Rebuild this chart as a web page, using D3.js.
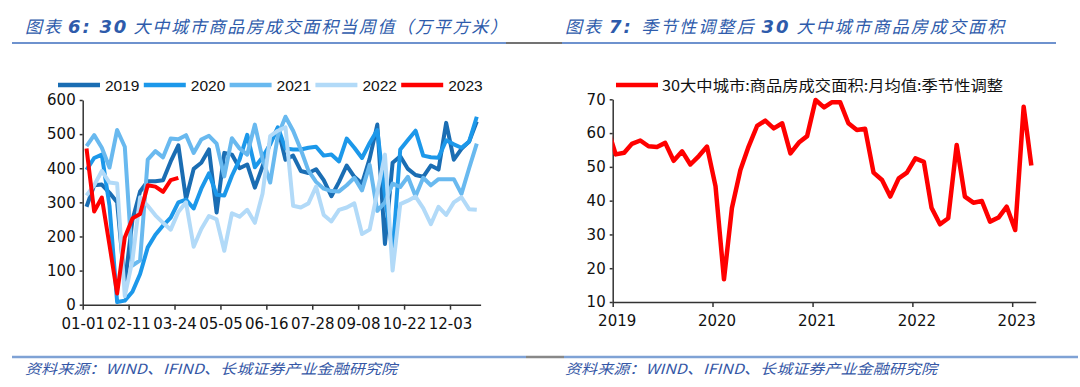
<!DOCTYPE html>
<html><head><meta charset="utf-8">
<script src="https://cdn.jsdelivr.net/npm/d3@7"></script>
<style>body{margin:0;background:#fff;} svg{display:block;}</style>
</head><body>
<svg id="c" width="1080" height="387"></svg>
<script>
// ---------- data ----------
const weekTickLabels = ["01-01","02-11","03-24","05-05","06-16","07-28","09-08","10-22","12-03"];
const weekYears = ["2019","2020","2021","2022","2023"];
const s2019 = [287,350,352,328,300,60,248,332,362,362,365,420,467,310,398,416,455,270,445,440,400,411,343,405,475,517,425,437,392,386,397,365,318,360,408,375,355,428,528,178,416,435,398,380,375,408,396,533,425,457,478,537];
const s2020 = [395,430,440,290,8,12,38,90,168,205,232,255,300,308,282,340,385,322,320,378,425,498,403,432,470,520,458,455,455,460,463,437,440,420,487,460,430,474,512,320,150,455,483,510,437,432,431,482,470,460,478,551];
const s2021 = [465,497,460,402,512,463,115,130,425,450,432,487,485,497,445,484,495,472,376,488,458,440,528,428,358,495,551,510,455,393,360,340,333,332,350,372,335,410,275,300,355,345,375,318,372,350,368,368,368,325,400,472];
const s2022 = [320,350,392,358,355,25,130,315,290,262,240,220,272,300,170,222,260,250,158,268,258,278,240,325,494,510,520,290,285,297,346,263,244,278,285,297,207,220,330,440,100,295,305,317,283,236,287,263,300,315,280,278];
const s2023 = [458,273,314,175,33,197,253,266,350,346,331,365,372];
const leftTicks = [0,100,200,300,400,500,600];

const saStart = "2018-12";
const saValues = [61.7,53.7,54.2,56.8,57.8,56.1,55.9,57.1,51.8,54.6,50.7,53.2,56.0,44.3,16.7,37.8,49.1,56.0,62.1,63.7,61.4,62.9,54.0,57.2,59.1,69.8,67.6,69.1,69.1,62.9,60.9,61.3,48.3,46.1,41.2,46.6,48.3,52.5,51.5,37.9,33.0,34.8,56.5,41.2,39.4,39.9,33.8,35.0,38.2,31.3,67.8,50.4];
const rightYears = ["2019","2020","2021","2022","2023"];
const rightTicks = [10,20,30,40,50,60,70];
const saLegend = "30大中城市:商品房成交面积:月均值:季节性调整";

const title1 = [{t:"图表 "},{t:"6: ",b:true},{t:" "},{t:"30",b:true},{t:" 大中城市商品房成交面积当周值（万平方米）"}];
const title2 = [{t:"图表 "},{t:"7: ",b:true},{t:" 季节性调整后 "},{t:"30",b:true},{t:" 大中城市商品房成交面积"}];
const sourceText = "资料来源：WIND、IFIND、长城证券产业金融研究院";

// ---------- styles ----------
const NUM = "'DejaVu Sans', Verdana, sans-serif";
const ARIAL = "'Liberation Sans', Arial, sans-serif";
const CJK = "'Noto Sans CJK SC','Noto Sans CJK JP',sans-serif";
const titleBlue = "#2e5bab";
const colors = ["#1a6db3","#1c98ea","#69b9ef","#b2daf8","#ff0000"];

const svg = d3.select("#c");

// ---------- titles & rules ----------
function drawTitle(x, y, w, parts){
  const t = svg.append("text").attr("x",x).attr("y",y)
    .attr("font-family",CJK).attr("font-size",17).attr("font-style","italic")
    .attr("fill",titleBlue).attr("textLength",w).attr("lengthAdjust","spacing");
  parts.forEach(p=>{
    const s = t.append("tspan").text(p.t);
    if(p.b){ s.attr("font-family",NUM).attr("font-weight","bold").attr("font-size",18); }
  });
}
drawTitle(25, 33, 482, title1);
drawTitle(565, 33, 439, title2);

svg.append("line").attr("x1",12).attr("x2",506).attr("y1",43).attr("y2",43).attr("stroke","#3e6ebe").attr("stroke-width",1.5);
svg.append("line").attr("x1",506).attr("x2",562).attr("y1",43).attr("y2",43).attr("stroke","#444").attr("stroke-width",1.5);
svg.append("line").attr("x1",562).attr("x2",1056).attr("y1",43).attr("y2",43).attr("stroke","#3e6ebe").attr("stroke-width",1.5);

svg.append("line").attr("x1",12).attr("x2",526).attr("y1",357).attr("y2",357).attr("stroke","#7fa2d5").attr("stroke-width",2.5);
svg.append("line").attr("x1",526).attr("x2",564).attr("y1",357).attr("y2",357).attr("stroke","#888").attr("stroke-width",2.5);
svg.append("line").attr("x1",564).attr("x2",1078).attr("y1",357).attr("y2",357).attr("stroke","#7fa2d5").attr("stroke-width",2.5);

[25,565].forEach(x=>{
  svg.append("text").attr("x",x).attr("y",374).text(sourceText)
    .attr("font-family",CJK).attr("font-size",14).attr("font-style","italic")
    .attr("fill","#3557a6").attr("textLength",372).attr("lengthAdjust","spacingAndGlyphs");
});

// ---------- left chart ----------
const xL = d3.scaleLinear().domain([0,52]).range([82.7,480.6]);
const yL = d3.scaleLinear().domain([0,600]).range([304.7,100]);
const gL = svg.append("g");

const axL = gL.append("g").attr("transform",`translate(${xL(0)},0)`)
  .call(d3.axisLeft(yL).tickValues(leftTicks).tickSize(3).tickSizeOuter(0).tickPadding(4));
const axB = gL.append("g").attr("transform",`translate(0,${yL(0)})`)
  .call(d3.axisBottom(xL).tickValues(weekTickLabels.map((d,i)=>i*6))
    .tickFormat((d,i)=>weekTickLabels[i]).tickSize(5).tickSizeOuter(0).tickPadding(9));
[axL,axB].forEach(a=>{
  a.select(".domain").attr("stroke","#333").attr("stroke-width",1.5);
  a.selectAll(".tick line").attr("stroke","#333").attr("stroke-width",1.5);
  a.selectAll("text").attr("font-family",NUM).attr("font-size",15).attr("fill","#111");
});

const lineL = d3.line().x((d,i)=>xL(i+0.5)).y(d=>yL(d)).curve(d3.curveLinear);
[s2019,s2020,s2021,s2022,s2023].forEach((s,k)=>{
  gL.append("path").datum(s).attr("d",lineL).attr("fill","none")
    .attr("stroke",colors[k]).attr("stroke-width",4).attr("stroke-linejoin","round");
});

// legend left
weekYears.forEach((y,i)=>{
  const x0 = 58 + i*85.8;
  gL.append("line").attr("x1",x0).attr("x2",x0+42).attr("y1",85).attr("y2",85)
    .attr("stroke",colors[i]).attr("stroke-width",4.5);
  gL.append("text").attr("x",x0+47).attr("y",90.5).text(y)
    .attr("font-family",ARIAL).attr("font-size",15.5).attr("fill","#111");
});

// ---------- right chart ----------
const parseM = d3.timeParse("%Y-%m");
const m0 = parseM(saStart);
const saDates = saValues.map((v,i)=>d3.timeDay.offset(d3.timeMonth.offset(m0,i),11));
const xR = d3.scaleTime().domain([new Date(2019,0,1), new Date(2023,2,28)]).range([612.7,1035.7]);
const yR = d3.scaleLinear().domain([10,70]).range([302,99.3]);
const gR = svg.append("g");

const axRL = gR.append("g").attr("transform",`translate(${xR.range()[0]},0)`)
  .call(d3.axisLeft(yR).tickValues(rightTicks).tickSize(3).tickSizeOuter(0).tickPadding(4));
const axRB = gR.append("g").attr("transform",`translate(0,${yR(10)})`)
  .call(d3.axisBottom(xR).tickValues(rightYears.map(y=>new Date(+y,0,1)))
    .tickFormat(d3.timeFormat("%Y")).tickSize(5).tickSizeOuter(0).tickPadding(8));
[axRL,axRB].forEach(a=>{
  a.select(".domain").attr("stroke","#333").attr("stroke-width",1.5);
  a.selectAll(".tick line").attr("stroke","#333").attr("stroke-width",1.5);
  a.selectAll("text").attr("font-family",NUM).attr("font-size",15).attr("fill","#111");
});
axRB.selectAll("text").attr("dx",4);

svg.append("clipPath").attr("id","clipR").append("rect")
  .attr("x",xR.range()[0]).attr("y",60).attr("width",440).attr("height",260);
const lineR = d3.line().x((d,i)=>xR(saDates[i])).y(d=>yR(d));
gR.append("path").datum(saValues).attr("d",lineR).attr("fill","none")
  .attr("stroke","#ff0000").attr("stroke-width",4.5).attr("stroke-linejoin","round")
  .attr("clip-path","url(#clipR)");

gR.append("line").attr("x1",616).attr("x2",658).attr("y1",85).attr("y2",85)
  .attr("stroke","#ff0000").attr("stroke-width",4.5);
gR.append("text").attr("x",662).attr("y",90.5).text(saLegend)
  .attr("font-family",CJK).attr("font-size",15).attr("fill","#111")
  .attr("textLength",341).attr("lengthAdjust","spacingAndGlyphs");
</script>
</body></html>
